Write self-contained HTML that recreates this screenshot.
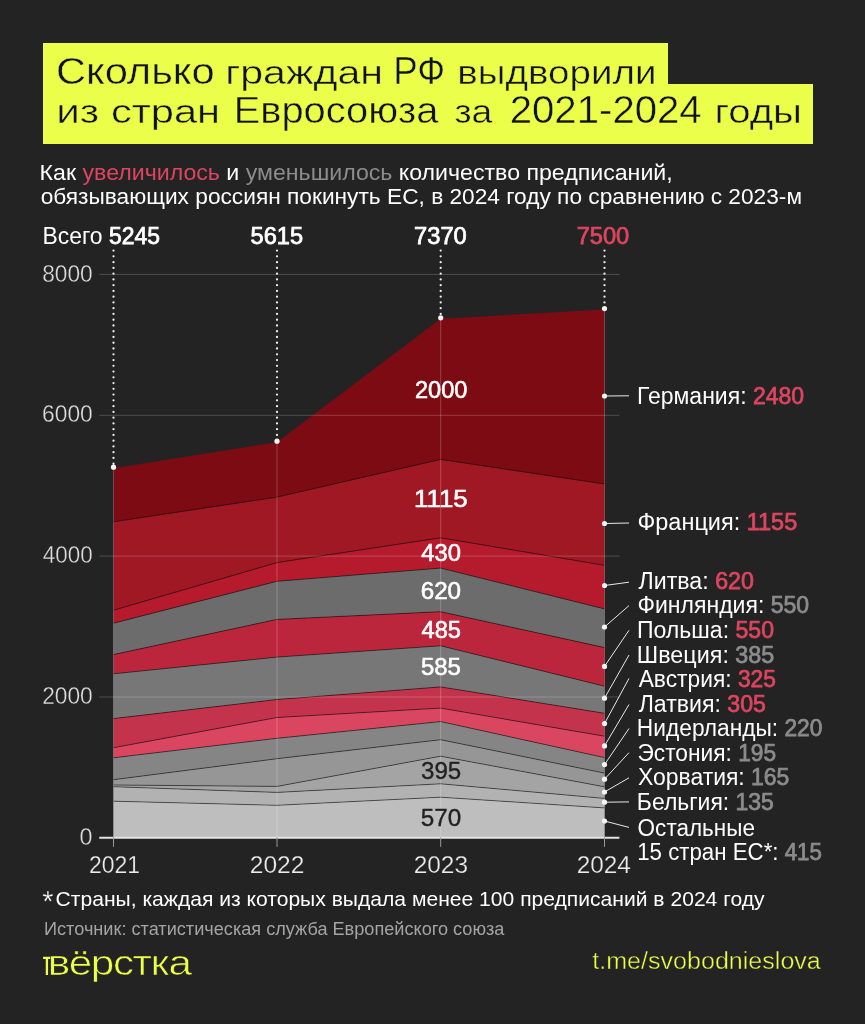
<!DOCTYPE html><html lang="ru"><head><meta charset="utf-8"><title>Сколько граждан РФ выдворили из стран Евросоюза</title>
<style>
html,body{margin:0;padding:0;background:#232323;}
body{width:865px;height:1024px;position:relative;overflow:hidden;font-family:"Liberation Sans",sans-serif;}
.t{position:absolute;white-space:pre;font-family:"Liberation Sans",sans-serif;transform-origin:0 0;}
.y{position:absolute;background:#ebff4a;}
</style></head><body>
<div class="y" style="left:43px;top:43px;width:625px;height:42px"></div>
<div class="y" style="left:43px;top:84px;width:770px;height:60px"></div>
<svg width="865" height="1024" viewBox="0 0 865 1024" style="position:absolute;left:0;top:0">
<polygon points="113.5,468.2 277.0,442.2 440.7,318.8 604.5,309.6 604.5,484.0 440.7,459.4 277.0,497.1 113.5,521.8" fill="#7d0b14"/>
<polygon points="113.5,521.8 277.0,497.1 440.7,459.4 604.5,484.0 604.5,565.3 440.7,537.8 277.0,562.6 113.5,610.2" fill="#9f1823"/>
<polygon points="113.5,610.2 277.0,562.6 440.7,537.8 604.5,565.3 604.5,608.9 440.7,568.1 277.0,581.3 113.5,623.2" fill="#b51a2d"/>
<polygon points="113.5,623.2 277.0,581.3 440.7,568.1 604.5,608.9 604.5,647.6 440.7,611.7 277.0,619.4 113.5,654.6" fill="#6c6c6c"/>
<polygon points="113.5,654.6 277.0,619.4 440.7,611.7 604.5,647.6 604.5,686.2 440.7,645.8 277.0,657.1 113.5,673.8" fill="#bc263d"/>
<polygon points="113.5,673.8 277.0,657.1 440.7,645.8 604.5,686.2 604.5,713.3 440.7,686.9 277.0,699.5 113.5,718.6" fill="#777777"/>
<polygon points="113.5,718.6 277.0,699.5 440.7,686.9 604.5,713.3 604.5,736.2 440.7,708.1 277.0,717.5 113.5,747.7" fill="#c4334c"/>
<polygon points="113.5,747.7 277.0,717.5 440.7,708.1 604.5,736.2 604.5,757.6 440.7,721.6 277.0,738.3 113.5,757.8" fill="#da4560"/>
<polygon points="113.5,757.8 277.0,738.3 440.7,721.6 604.5,757.6 604.5,773.1 440.7,739.7 277.0,758.7 113.5,779.7" fill="#858585"/>
<polygon points="113.5,779.7 277.0,758.7 440.7,739.7 604.5,773.1 604.5,786.8 440.7,756.2 277.0,786.4 113.5,785.0" fill="#969696"/>
<polygon points="113.5,785.0 277.0,786.4 440.7,756.2 604.5,786.8 604.5,798.4 440.7,783.8 277.0,792.4 113.5,786.7" fill="#a4a4a4"/>
<polygon points="113.5,786.7 277.0,792.4 440.7,783.8 604.5,798.4 604.5,807.9 440.7,797.2 277.0,805.3 113.5,801.2" fill="#b2b2b2"/>
<polygon points="113.5,801.2 277.0,805.3 440.7,797.2 604.5,807.9 604.5,837.1 440.7,837.1 277.0,837.1 113.5,837.1" fill="#bebebe"/>
<polyline points="113.5,521.8 277.0,497.1 440.7,459.4 604.5,484.0" fill="none" stroke="#000000" stroke-opacity="0.5" stroke-width="1"/>
<polyline points="113.5,610.2 277.0,562.6 440.7,537.8 604.5,565.3" fill="none" stroke="#000000" stroke-opacity="0.5" stroke-width="1"/>
<polyline points="113.5,623.2 277.0,581.3 440.7,568.1 604.5,608.9" fill="none" stroke="#000000" stroke-opacity="0.5" stroke-width="1"/>
<polyline points="113.5,654.6 277.0,619.4 440.7,611.7 604.5,647.6" fill="none" stroke="#000000" stroke-opacity="0.5" stroke-width="1"/>
<polyline points="113.5,673.8 277.0,657.1 440.7,645.8 604.5,686.2" fill="none" stroke="#000000" stroke-opacity="0.5" stroke-width="1"/>
<polyline points="113.5,718.6 277.0,699.5 440.7,686.9 604.5,713.3" fill="none" stroke="#000000" stroke-opacity="0.5" stroke-width="1"/>
<polyline points="113.5,747.7 277.0,717.5 440.7,708.1 604.5,736.2" fill="none" stroke="#000000" stroke-opacity="0.5" stroke-width="1"/>
<polyline points="113.5,757.8 277.0,738.3 440.7,721.6 604.5,757.6" fill="none" stroke="#000000" stroke-opacity="0.5" stroke-width="1"/>
<polyline points="113.5,779.7 277.0,758.7 440.7,739.7 604.5,773.1" fill="none" stroke="#000000" stroke-opacity="0.5" stroke-width="1"/>
<polyline points="113.5,785.0 277.0,786.4 440.7,756.2 604.5,786.8" fill="none" stroke="#000000" stroke-opacity="0.5" stroke-width="1"/>
<polyline points="113.5,786.7 277.0,792.4 440.7,783.8 604.5,798.4" fill="none" stroke="#000000" stroke-opacity="0.5" stroke-width="1"/>
<polyline points="113.5,801.2 277.0,805.3 440.7,797.2 604.5,807.9" fill="none" stroke="#000000" stroke-opacity="0.5" stroke-width="1"/>
<line x1="99.3" x2="619.4" y1="274.4" y2="274.4" stroke="#ffffff" stroke-opacity="0.2" stroke-width="1"/>
<line x1="99.3" x2="619.4" y1="415.3" y2="415.3" stroke="#ffffff" stroke-opacity="0.2" stroke-width="1"/>
<line x1="99.3" x2="619.4" y1="556.1" y2="556.1" stroke="#ffffff" stroke-opacity="0.2" stroke-width="1"/>
<line x1="99.3" x2="619.4" y1="697.0" y2="697.0" stroke="#ffffff" stroke-opacity="0.2" stroke-width="1"/>
<line x1="113.5" x2="113.5" y1="468.2" y2="837.1" stroke="#ffffff" stroke-opacity="0.22" stroke-width="1"/>
<line x1="277.0" x2="277.0" y1="442.2" y2="837.1" stroke="#ffffff" stroke-opacity="0.22" stroke-width="1"/>
<line x1="440.7" x2="440.7" y1="318.8" y2="837.1" stroke="#ffffff" stroke-opacity="0.22" stroke-width="1"/>
<line x1="604.5" x2="604.5" y1="309.6" y2="837.1" stroke="#ffffff" stroke-opacity="0.22" stroke-width="1"/>
<line x1="99.3" x2="619.4" y1="837.8" y2="837.8" stroke="#e4e4e4" stroke-width="2.1"/>
<line x1="113.5" x2="113.5" y1="837.1" y2="846.9" stroke="#9a9a9a" stroke-width="1"/>
<line x1="277.0" x2="277.0" y1="837.1" y2="846.9" stroke="#9a9a9a" stroke-width="1"/>
<line x1="440.7" x2="440.7" y1="837.1" y2="846.9" stroke="#9a9a9a" stroke-width="1"/>
<line x1="604.5" x2="604.5" y1="837.1" y2="846.9" stroke="#9a9a9a" stroke-width="1"/>
<line x1="113.5" x2="113.5" y1="250.6" y2="465.2" stroke="#ececec" stroke-width="2.3" stroke-dasharray="0.01 5.75" stroke-linecap="round"/>
<circle cx="113.5" cy="467.2" r="2.6" fill="#f4f4f4"/>
<line x1="277.0" x2="277.0" y1="250.6" y2="439.2" stroke="#ececec" stroke-width="2.3" stroke-dasharray="0.01 5.75" stroke-linecap="round"/>
<circle cx="277.0" cy="441.2" r="2.6" fill="#f4f4f4"/>
<line x1="440.7" x2="440.7" y1="250.6" y2="315.8" stroke="#ececec" stroke-width="2.3" stroke-dasharray="0.01 5.75" stroke-linecap="round"/>
<circle cx="440.7" cy="317.8" r="2.6" fill="#f4f4f4"/>
<line x1="604.5" x2="604.5" y1="250.6" y2="306.6" stroke="#ececec" stroke-width="2.3" stroke-dasharray="0.01 5.75" stroke-linecap="round"/>
<circle cx="604.5" cy="308.6" r="2.6" fill="#f4f4f4"/>
<line x1="604.5" y1="396.0" x2="629" y2="395.8" stroke="#e8e8e8" stroke-width="1"/>
<circle cx="604.5" cy="396.0" r="2.6" fill="#f4f4f4"/>
<line x1="604.5" y1="523.5" x2="629" y2="523.0" stroke="#e8e8e8" stroke-width="1"/>
<circle cx="604.5" cy="523.5" r="2.6" fill="#f4f4f4"/>
<line x1="604.5" y1="585.5" x2="629" y2="582.2" stroke="#e8e8e8" stroke-width="1"/>
<circle cx="604.5" cy="585.5" r="2.6" fill="#f4f4f4"/>
<line x1="604.5" y1="627.0" x2="629" y2="605.6" stroke="#e8e8e8" stroke-width="1"/>
<circle cx="604.5" cy="627.0" r="2.6" fill="#f4f4f4"/>
<line x1="604.5" y1="666.4" x2="629" y2="630.3" stroke="#e8e8e8" stroke-width="1"/>
<circle cx="604.5" cy="666.4" r="2.6" fill="#f4f4f4"/>
<line x1="604.5" y1="698.2" x2="629" y2="655.0" stroke="#e8e8e8" stroke-width="1"/>
<circle cx="604.5" cy="698.2" r="2.6" fill="#f4f4f4"/>
<line x1="604.5" y1="723.6" x2="629" y2="678.4" stroke="#e8e8e8" stroke-width="1"/>
<circle cx="604.5" cy="723.6" r="2.6" fill="#f4f4f4"/>
<line x1="604.5" y1="745.9" x2="629" y2="704.5" stroke="#e8e8e8" stroke-width="1"/>
<circle cx="604.5" cy="745.9" r="2.6" fill="#f4f4f4"/>
<line x1="604.5" y1="764.6" x2="629" y2="728.5" stroke="#e8e8e8" stroke-width="1"/>
<circle cx="604.5" cy="764.6" r="2.6" fill="#f4f4f4"/>
<line x1="604.5" y1="779.2" x2="629" y2="752.6" stroke="#e8e8e8" stroke-width="1"/>
<circle cx="604.5" cy="779.2" r="2.6" fill="#f4f4f4"/>
<line x1="604.5" y1="792.0" x2="629" y2="777.8" stroke="#e8e8e8" stroke-width="1"/>
<circle cx="604.5" cy="792.0" r="2.6" fill="#f4f4f4"/>
<line x1="604.5" y1="802.2" x2="629" y2="801.9" stroke="#e8e8e8" stroke-width="1"/>
<circle cx="604.5" cy="802.2" r="2.6" fill="#f4f4f4"/>
<line x1="604.5" y1="821.0" x2="629" y2="827.4" stroke="#e8e8e8" stroke-width="1"/>
<circle cx="604.5" cy="821.0" r="2.6" fill="#f4f4f4"/>
<path d="M43.1 957.8 H52.5 M46.9 956.7 V975.1" stroke="#ebff4a" stroke-width="2.3" fill="none"/>
</svg>
<div id="txt" style="position:absolute;left:0;top:0;width:865px;height:1024px;will-change:transform">
<div class="t" id="t0" style="left:55px;top:51px;font-size:36px;line-height:41px;transform:translateX(0.90px) scaleX(1.1562);"><span style="color:#111;-webkit-text-stroke:0.45px #ebff4a">Сколько</span></div>
<div class="t" id="t1" style="left:225px;top:53px;font-size:34px;line-height:38px;transform:translateX(0.22px) scaleX(1.2096);"><span style="color:#111;-webkit-text-stroke:0.45px #ebff4a">граждан</span></div>
<div class="t" id="t2" style="left:393px;top:49px;font-size:38.5px;line-height:43px;transform:translateX(0.19px) scaleX(0.9521);"><span style="color:#111;-webkit-text-stroke:0.45px #ebff4a">РФ</span></div>
<div class="t" id="t3" style="left:457px;top:53px;font-size:34px;line-height:38px;transform:translateX(0.29px) scaleX(1.1341);"><span style="color:#111;-webkit-text-stroke:0.45px #ebff4a">выдворили</span></div>
<div class="t" id="t4" style="left:56px;top:92px;font-size:34px;line-height:38px;transform:translateX(0.20px) scaleX(1.2400);"><span style="color:#111;-webkit-text-stroke:0.45px #ebff4a">из</span></div>
<div class="t" id="t5" style="left:110px;top:92px;font-size:34px;line-height:38px;transform:translateX(0.89px) scaleX(1.2241);"><span style="color:#111;-webkit-text-stroke:0.45px #ebff4a">стран</span></div>
<div class="t" id="t6" style="left:233px;top:90px;font-size:36px;line-height:41px;transform:translateX(0.67px) scaleX(1.1062);"><span style="color:#111;-webkit-text-stroke:0.45px #ebff4a">Евросоюза</span></div>
<div class="t" id="t7" style="left:454px;top:92px;font-size:34px;line-height:38px;transform:translateX(0.41px) scaleX(1.0973);"><span style="color:#111;-webkit-text-stroke:0.45px #ebff4a">за</span></div>
<div class="t" id="t8" style="left:509px;top:88px;font-size:38.5px;line-height:43px;transform:translateX(0.72px) scaleX(1.0426);"><span style="color:#111;-webkit-text-stroke:0.45px #ebff4a">2021-2024</span></div>
<div class="t" id="t9" style="left:714px;top:92px;font-size:34px;line-height:38px;transform:translateX(0.42px) scaleX(1.1821);"><span style="color:#111;-webkit-text-stroke:0.45px #ebff4a">годы</span></div>
<div class="t" id="t10" style="left:39px;top:161px;font-size:21.3px;line-height:24px;transform:translateX(0.62px) scaleX(1.0866);"><span style="color:#ffffff">Как </span><span style="color:#dd4560">увеличилось</span><span style="color:#ffffff"> и </span><span style="color:#8c8c8c">уменьшилось</span><span style="color:#ffffff"> количество предписаний,</span></div>
<div class="t" id="t11" style="left:40px;top:185px;font-size:21.3px;line-height:24px;transform:translateX(0.66px) scaleX(1.0659);"><span style="color:#ffffff">обязывающих россиян покинуть ЕС, в 2024 году по сравнению с 2023-м</span></div>
<div class="t" id="t12" style="left:42px;top:223px;font-size:23px;line-height:26px;transform:translateX(0.48px) scaleX(0.9969);"><span style="color:#ffffff">Всего </span><span style="color:#ffffff;-webkit-text-stroke:0.75px #ffffff">5245</span></div>
<div class="t" id="t13" style="left:250px;top:223px;font-size:23px;line-height:26px;transform:translateX(0.58px) scaleX(1.0259);"><span style="color:#ffffff;-webkit-text-stroke:0.75px #ffffff">5615</span></div>
<div class="t" id="t14" style="left:414px;top:223px;font-size:23px;line-height:26px;transform:translateX(0.05px) scaleX(1.0308);"><span style="color:#ffffff;-webkit-text-stroke:0.75px #ffffff">7370</span></div>
<div class="t" id="t15" style="left:576px;top:223px;font-size:23px;line-height:26px;transform:translateX(0.65px) scaleX(1.0286);"><span style="color:#dd4560;-webkit-text-stroke:0.75px #dd4560">7500</span></div>
<div class="t" id="t16" style="left:42px;top:261px;font-size:23.3px;line-height:26px;transform:translateX(0.22px) scaleX(0.9743);"><span style="color:#dcdcdc;-webkit-text-stroke:0.3px #232323">8000</span></div>
<div class="t" id="t17" style="left:42px;top:401px;font-size:23.3px;line-height:26px;transform:translateX(0.10px) scaleX(0.9765);"><span style="color:#dcdcdc;-webkit-text-stroke:0.3px #232323">6000</span></div>
<div class="t" id="t18" style="left:42px;top:542px;font-size:23.3px;line-height:26px;transform:translateX(0.82px) scaleX(0.9611);"><span style="color:#dcdcdc;-webkit-text-stroke:0.3px #232323">4000</span></div>
<div class="t" id="t19" style="left:42px;top:683px;font-size:23.3px;line-height:26px;transform:translateX(0.18px) scaleX(0.9756);"><span style="color:#dcdcdc;-webkit-text-stroke:0.3px #232323">2000</span></div>
<div class="t" id="t20" style="left:79px;top:824px;font-size:23.3px;line-height:26px;transform:translateX(0.61px) scaleX(1.0000);"><span style="color:#dcdcdc;-webkit-text-stroke:0.3px #232323">0</span></div>
<div class="t" id="t21" style="left:88px;top:852px;font-size:23.6px;line-height:26px;transform:translateX(0.95px) scaleX(0.9749);"><span style="color:#ececec;-webkit-text-stroke:0.25px #232323">2021</span></div>
<div class="t" id="t22" style="left:249px;top:852px;font-size:23.6px;line-height:26px;transform:translateX(0.72px) scaleX(1.0410);"><span style="color:#ececec;-webkit-text-stroke:0.25px #232323">2022</span></div>
<div class="t" id="t23" style="left:413px;top:852px;font-size:23.6px;line-height:26px;transform:translateX(0.64px) scaleX(1.0368);"><span style="color:#ececec;-webkit-text-stroke:0.25px #232323">2023</span></div>
<div class="t" id="t24" style="left:576px;top:852px;font-size:23.6px;line-height:26px;transform:translateX(0.63px) scaleX(1.0333);"><span style="color:#ececec;-webkit-text-stroke:0.25px #232323">2024</span></div>
<div class="t" id="t25" style="left:414px;top:376px;font-size:24px;line-height:27px;transform:translateX(0.90px) scaleX(0.9824);"><span style="color:#ffffff;-webkit-text-stroke:0.6px #ffffff">2000</span></div>
<div class="t" id="t26" style="left:414px;top:485px;font-size:24px;line-height:27px;transform:translateX(0.00px) scaleX(1.0769);"><span style="color:#ffffff;-webkit-text-stroke:0.6px #ffffff">1115</span></div>
<div class="t" id="t27" style="left:421px;top:539px;font-size:24px;line-height:27px;transform:translateX(0.18px) scaleX(0.9910);"><span style="color:#ffffff;-webkit-text-stroke:0.6px #ffffff">430</span></div>
<div class="t" id="t28" style="left:420px;top:577px;font-size:24px;line-height:27px;transform:translateX(0.71px) scaleX(1.0078);"><span style="color:#ffffff;-webkit-text-stroke:0.6px #ffffff">620</span></div>
<div class="t" id="t29" style="left:421px;top:616px;font-size:24px;line-height:27px;transform:translateX(0.50px) scaleX(0.9854);"><span style="color:#ffffff;-webkit-text-stroke:0.6px #ffffff">485</span></div>
<div class="t" id="t30" style="left:420px;top:653px;font-size:24px;line-height:27px;transform:translateX(0.99px) scaleX(0.9977);"><span style="color:#ffffff;-webkit-text-stroke:0.6px #ffffff">585</span></div>
<div class="t" id="t31" style="left:420px;top:757px;font-size:24px;line-height:27px;transform:translateX(1.00px) scaleX(1.0037);"><span style="color:#222222;-webkit-text-stroke:0.35px #222222">395</span></div>
<div class="t" id="t32" style="left:420px;top:804px;font-size:24px;line-height:27px;transform:translateX(0.68px) scaleX(1.0122);"><span style="color:#222222;-webkit-text-stroke:0.35px #222222">570</span></div>
<div class="t" id="t33" style="left:637px;top:383px;font-size:23px;line-height:26px;transform:translateX(0.06px) scaleX(0.9998);"><span style="color:#ffffff">Германия: </span><span style="color:#dd4560;-webkit-text-stroke:0.75px #dd4560">2480</span></div>
<div class="t" id="t34" style="left:637px;top:509px;font-size:23px;line-height:26px;transform:translateX(0.44px) scaleX(1.0209);"><span style="color:#ffffff">Франция: </span><span style="color:#dd4560;-webkit-text-stroke:0.75px #dd4560">1155</span></div>
<div class="t" id="t35" style="left:638px;top:568px;font-size:23px;line-height:26px;transform:translateX(0.55px) scaleX(1.0077);"><span style="color:#ffffff">Литва: </span><span style="color:#dd4560;-webkit-text-stroke:0.75px #dd4560">620</span></div>
<div class="t" id="t36" style="left:637px;top:592px;font-size:23px;line-height:26px;transform:translateX(0.50px) scaleX(1.0004);"><span style="color:#ffffff">Финляндия: </span><span style="color:#8c8c8c;-webkit-text-stroke:0.75px #8c8c8c">550</span></div>
<div class="t" id="t37" style="left:636px;top:617px;font-size:23px;line-height:26px;transform:translateX(0.95px) scaleX(1.0029);"><span style="color:#ffffff">Польша: </span><span style="color:#dd4560;-webkit-text-stroke:0.75px #dd4560">550</span></div>
<div class="t" id="t38" style="left:636px;top:642px;font-size:23px;line-height:26px;transform:translateX(0.82px) scaleX(1.0149);"><span style="color:#ffffff">Швеция: </span><span style="color:#8c8c8c;-webkit-text-stroke:0.75px #8c8c8c">385</span></div>
<div class="t" id="t39" style="left:638px;top:666px;font-size:23px;line-height:26px;transform:translateX(0.69px) scaleX(0.9897);"><span style="color:#ffffff">Австрия: </span><span style="color:#dd4560;-webkit-text-stroke:0.75px #dd4560">325</span></div>
<div class="t" id="t40" style="left:638px;top:691px;font-size:23px;line-height:26px;transform:translateX(0.63px) scaleX(1.0059);"><span style="color:#ffffff">Латвия: </span><span style="color:#dd4560;-webkit-text-stroke:0.75px #dd4560">305</span></div>
<div class="t" id="t41" style="left:636px;top:715px;font-size:23px;line-height:26px;transform:translateX(0.87px) scaleX(0.9881);"><span style="color:#ffffff">Нидерланды: </span><span style="color:#8c8c8c;-webkit-text-stroke:0.75px #8c8c8c">220</span></div>
<div class="t" id="t42" style="left:637px;top:740px;font-size:23px;line-height:26px;transform:translateX(0.46px) scaleX(0.9880);"><span style="color:#ffffff">Эстония: </span><span style="color:#8c8c8c;-webkit-text-stroke:0.75px #8c8c8c">195</span></div>
<div class="t" id="t43" style="left:637px;top:764px;font-size:23px;line-height:26px;transform:translateX(0.97px) scaleX(0.9965);"><span style="color:#ffffff">Хорватия: </span><span style="color:#8c8c8c;-webkit-text-stroke:0.75px #8c8c8c">165</span></div>
<div class="t" id="t44" style="left:636px;top:789px;font-size:23px;line-height:26px;transform:translateX(0.86px) scaleX(0.9971);"><span style="color:#ffffff">Бельгия: </span><span style="color:#8c8c8c;-webkit-text-stroke:0.75px #8c8c8c">135</span></div>
<div class="t" id="t45" style="left:637px;top:815px;font-size:23px;line-height:26px;transform:translateX(0.61px) scaleX(0.9789);"><span style="color:#ffffff">Остальные</span></div>
<div class="t" id="t46" style="left:637px;top:839px;font-size:23px;line-height:26px;transform:translateX(0.20px) scaleX(0.9681);"><span style="color:#ffffff">15 стран ЕС*: </span><span style="color:#8c8c8c;-webkit-text-stroke:0.75px #8c8c8c">415</span></div>
<div class="t" id="t47" style="left:42px;top:885px;font-size:29px;line-height:32px;transform:translateX(0.31px) scaleX(1.0000);"><span style="color:#ffffff;-webkit-text-stroke:0.3px #232323">*</span></div>
<div class="t" id="t48" style="left:55px;top:887px;font-size:20.8px;line-height:23px;transform:translateX(0.55px) scaleX(1.0138);"><span style="color:#ffffff">Страны, каждая из которых выдала менее 100 предписаний в 2024 году</span></div>
<div class="t" id="t49" style="left:44px;top:919px;font-size:17.5px;line-height:20px;transform:translateX(0.00px) scaleX(1.0363);"><span style="color:#a4a4a4">Источник: статистическая служба Европейского союза</span></div>
<div class="t" id="t50" style="left:47px;top:943px;font-size:35px;line-height:39px;transform:translateX(0.81px) scaleX(1.2066);letter-spacing:-1.200px;"><span style="color:#ebff4a;-webkit-text-stroke:0.6px #232323">вёрстка</span></div>
<div class="t" id="t51" style="left:592px;top:948px;font-size:23.5px;line-height:26px;transform:translateX(0.29px) scaleX(1.0666);"><span style="color:#ebff4a;-webkit-text-stroke:0.4px #232323">t.me/svobodnieslova</span></div>
</div>
</body></html>
